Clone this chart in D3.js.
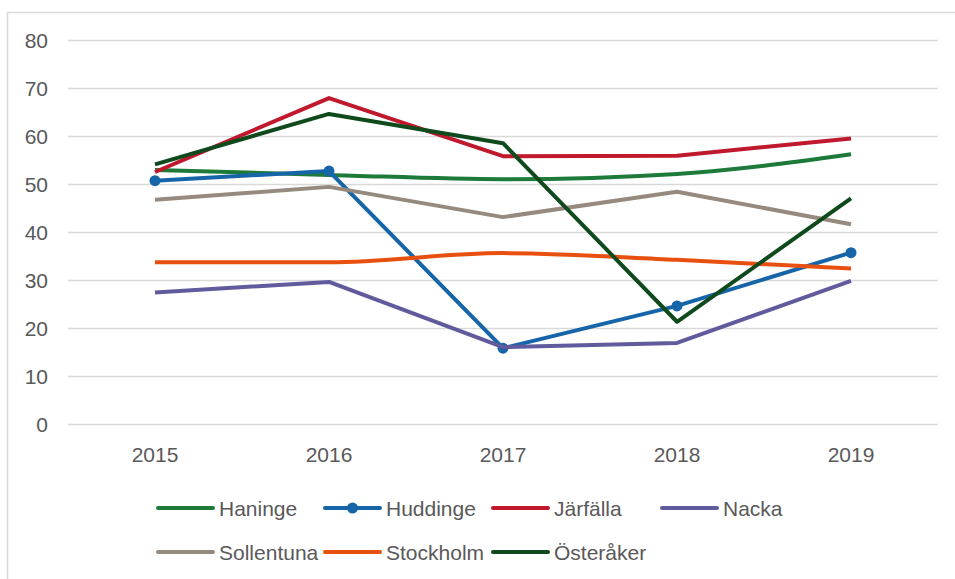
<!DOCTYPE html>
<html>
<head>
  <meta charset="utf-8">
  <style>
    body {
      margin: 0;
      background: #fff;
      font-family: "Liberation Sans", Arial, sans-serif;
    }

    #chart {
      width: 955px;
      height: 579px;
    }

    .tick-label, .legend-label {
      fill: #595959;
      font-size: 21px;
    }
  </style>
</head>
<body>
  <div id="chart"></div>
  <script src="https://d3js.org/d3.v7.min.js"></script>
  <script>

    // DATA
    var years = ['2015', '2016', '2017', '2018', '2019'];
    var yTicks = [0, 10, 20, 30, 40, 50, 60, 70, 80];

    var haninge    = [52.9, 51.9, 51.0, 52.1, 56.2];
    var huddinge   = [50.7, 52.7, 15.8, 24.6, 35.7];
    var jarfalla   = [52.5, 67.9, 55.8, 55.9, 59.5];
    var nacka      = [27.4, 29.6, 16.0, 16.9, 29.8];
    var sollentuna = [46.7, 49.4, 43.1, 48.4, 41.6];
    var stockholm  = [33.7, 33.7, 35.6, 34.2, 32.4];
    var osteraker  = [54.1, 64.6, 58.5, 21.3, 47.0];

    var series = [
      { name: 'Haninge',    values: haninge,    color: '#1e7a3a', smooth: true },
      { name: 'Huddinge',   values: huddinge,   color: '#1765a9', markers: true },
      { name: 'Järfälla',   values: jarfalla,   color: '#c0182c' },
      { name: 'Nacka',      values: nacka,      color: '#615a9d' },
      { name: 'Sollentuna', values: sollentuna, color: '#968a7e' },
      { name: 'Stockholm',  values: stockholm,  color: '#e8500f', smooth: true },
      { name: 'Österåker',  values: osteraker,  color: '#0f4a1d' }
    ];

    // legend layout: [x of line start, y]
    var legendPos = [
      [158, 508], [325, 508], [493, 508], [662, 508],
      [158, 552], [325, 552], [493, 552]
    ];

    // LAYOUT
    var width = 955;
    var height = 579;

    var svg = d3.select('#chart')
      .append('svg')
        .attr('width', width)
        .attr('height', height);

    // frame (top + left edges only, the rest is cropped)
    svg.append('path')
      .attr('d', 'M7.5,' + height + 'V12.5H' + width)
      .style('fill', 'none')
      .style('stroke', '#d9d9d9')
      .style('stroke-width', 1.5);

    var x = d3.scaleBand()
      .domain(years)
      .range([68, 938]);

    var y = d3.scaleLinear()
      .domain([0, 80])
      .range([424, 40]);

    // grid
    svg.append('g')
      .selectAll('line')
      .data(yTicks)
      .enter()
        .append('line')
          .attr('x1', 68)
          .attr('x2', 938)
          .attr('y1', d => y(d) + 0.5)
          .attr('y2', d => y(d) + 0.5)
          .style('stroke', '#d9d9d9')
          .style('stroke-width', 1.5);

    svg.append('g')
      .selectAll('text')
      .data(yTicks)
      .enter()
        .append('text')
          .attr('class', 'tick-label')
          .attr('x', 48)
          .attr('y', d => y(d))
          .attr('dy', '0.36em')
          .attr('text-anchor', 'end')
          .text(d => d);

    svg.append('g')
      .selectAll('text')
      .data(years)
      .enter()
        .append('text')
          .attr('class', 'tick-label')
          .attr('x', d => x(d) + x.bandwidth() / 2)
          .attr('y', 454)
          .attr('dy', '0.36em')
          .attr('text-anchor', 'middle')
          .text(d => d);

    // lines
    var cx = (d, i) => x(years[i]) + x.bandwidth() / 2;

    var lineGroup = svg.append('g');

    series.forEach(function(s) {
      var line = d3.line()
        .x(cx)
        .y(d => y(d))
        .curve(s.smooth ? d3.curveMonotoneX : d3.curveLinear);

      lineGroup.append('path')
        .datum(s.values)
        .attr('d', line)
        .style('fill', 'none')
        .style('stroke', s.color)
        .style('stroke-width', 4)
        .style('stroke-linejoin', 'round');

      if (s.markers) {
        lineGroup.selectAll(null)
          .data(s.values)
          .enter()
            .append('circle')
              .attr('cx', cx)
              .attr('cy', d => y(d))
              .attr('r', 5.5)
              .style('fill', s.color);
      }
    });

    // legend
    var legend = svg.append('g')
      .selectAll('g')
      .data(series)
      .enter()
        .append('g')
          .attr('transform', (d, i) => `translate(${legendPos[i][0]},${legendPos[i][1]})`);

    legend.append('line')
      .attr('x1', 0)
      .attr('x2', 55)
      .style('stroke', d => d.color)
      .style('stroke-width', 4)
      .style('stroke-linecap', 'round');

    legend.filter(d => d.markers)
      .append('circle')
        .attr('cx', 27.5)
        .attr('r', 5.5)
        .style('fill', d => d.color);

    legend.append('text')
      .attr('class', 'legend-label')
      .attr('x', 61)
      .attr('dy', '0.36em')
      .text(d => d.name);

  </script>
</body>
</html>
